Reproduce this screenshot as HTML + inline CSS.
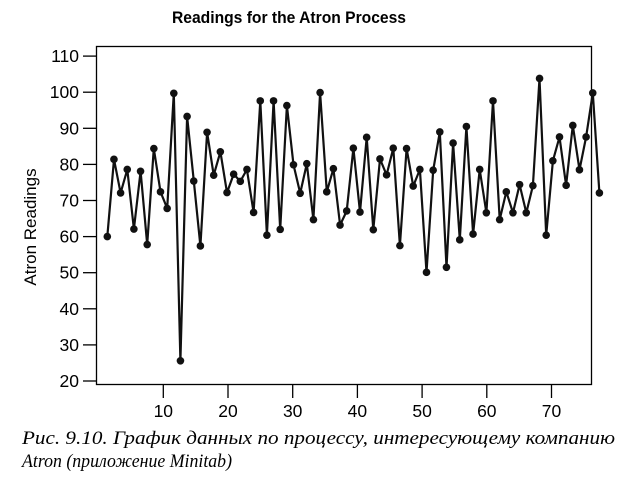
<!DOCTYPE html>
<html><head><meta charset="utf-8"><style>
body{margin:0;background:#fff;width:637px;height:500px;overflow:hidden}
svg{display:block}
</style></head><body>
<svg width="637" height="500" xmlns="http://www.w3.org/2000/svg">
<text x="289" y="23" text-anchor="middle" font-family="Liberation Sans, sans-serif" font-weight="bold" font-size="17" textLength="234" lengthAdjust="spacingAndGlyphs">Readings for the Atron Process</text>
<rect x="96.5" y="46.5" width="495" height="338" fill="none" stroke="#000" stroke-width="1.3"/>
<text transform="translate(36,227) rotate(-90)" text-anchor="middle" font-family="Liberation Sans, sans-serif" font-size="17">Atron Readings</text>
<g id="yaxis"></g>
<g id="xaxis"></g>
<g id="series"></g>
<text font-family="Liberation Serif, serif" font-style="italic" font-size="19">
<tspan x="22" y="444" textLength="593" lengthAdjust="spacingAndGlyphs">Рис. 9.10. График данных по процессу, интересующему компанию</tspan>
<tspan x="22" y="467" textLength="210" lengthAdjust="spacingAndGlyphs">Atron (приложение Minitab)</tspan>
</text>
</svg>
<script>
const readings = [60,81.4,72.1,78.6,62.1,78.1,57.8,84.4,72.4,67.8,99.7,25.6,93.3,75.4,57.4,88.9,77,83.5,72.2,77.3,75.3,78.6,66.7,97.6,60.4,97.6,62,96.3,79.9,72,80.2,64.7,99.9,72.4,78.8,63.2,67.1,84.5,66.8,87.5,61.9,81.5,77.1,84.5,57.5,84.4,74,78.6,50.1,78.4,89,51.5,85.9,59.1,90.5,60.7,78.6,66.6,97.6,64.7,72.4,66.6,74.4,66.6,74.1,103.8,60.4,81,87.6,74.2,90.8,78.5,87.6,99.8,72.1];
const yTicks = [20,30,40,50,60,70,80,90,100,110];
const xTicks = [10,20,30,40,50,60,70];
const NS='http://www.w3.org/2000/svg';
function yScale(v){return 381 - (v-20)*3.61;}
function xScale(i){return 107.3 + (i-1)*6.65;}
function xTickScale(t){return 163.3 + (t-10)*6.47;}
function mk(tag,attrs,parent){const e=document.createElementNS(NS,tag);for(const k in attrs)e.setAttribute(k,attrs[k]);parent.appendChild(e);return e;}
const ya=document.getElementById('yaxis');
yTicks.forEach(t=>{
  const y=yScale(t);
  const l=mk('line',{x1:83,x2:96.5,y1:y,y2:y,stroke:'#000','stroke-width':1.3},ya);
  
  
  const tx=mk('text',{x:79,y:y+6,'text-anchor':'end','font-family':'Liberation Sans, sans-serif','font-size':17.5},ya);
  tx.textContent=t;
  
  
});
const xa=document.getElementById('xaxis');
xTicks.forEach(t=>{
  const x=xTickScale(t);
  const l=mk('line',{x1:x,x2:x,y1:384.5,y2:398,stroke:'#000','stroke-width':1.3},xa);
  
  
  const tx=mk('text',{x:x,y:417,'text-anchor':'middle','font-family':'Liberation Sans, sans-serif','font-size':17.5},xa);
  tx.textContent=t;
  
  
});
const sg=document.getElementById('series');
const pts=readings.map((v,i)=>xScale(i+1).toFixed(1)+','+yScale(v).toFixed(1)).join(' ');
const pl=mk('polyline',{points:pts,fill:'none',stroke:'#111','stroke-width':2.2,'stroke-linejoin':'round'},sg);


readings.forEach((v,i)=>{
  const c=mk('circle',{cx:xScale(i+1),cy:yScale(v),r:3.8,fill:'#111'},sg);
  
  
});
</script>
</body></html>
